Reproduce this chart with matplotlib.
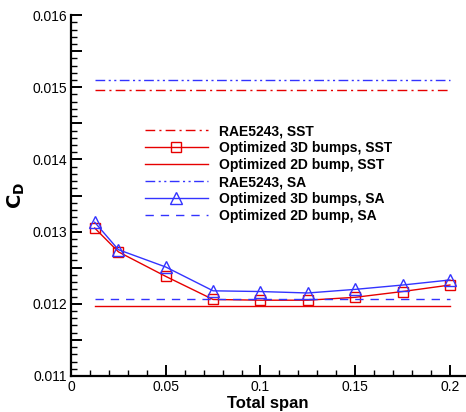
import matplotlib
matplotlib.use("Agg")
import matplotlib.pyplot as plt
from matplotlib.ticker import MultipleLocator, FuncFormatter

# data
span = [0.0125, 0.025, 0.05, 0.075, 0.1, 0.125, 0.15, 0.175, 0.2]
cd_3d_sst = [0.01305, 0.01272, 0.01238, 0.01206, 0.01205, 0.01205, 0.01209, 0.01217, 0.01226]
cd_3d_sa = [0.01313, 0.01275, 0.01251, 0.01218, 0.01217, 0.01215, 0.01220, 0.01226, 0.01233]
cd_rae_sst = 0.01496
cd_rae_sa = 0.01510
cd_2d_sst = 0.01197
cd_2d_sa = 0.01207

plt.rcParams["font.family"] = ["Liberation Sans", "DejaVu Sans"]

red = "#e60000"
blue = "#3333ff"

fig = plt.figure(figsize=(4.66, 4.12), dpi=100)
ax = fig.add_axes([0.1524, 0.0874, 0.8455, 0.876])

x_ends = [span[0], span[-1]]
ax.plot(x_ends, [cd_rae_sst] * 2, color=red, lw=1.0, dashes=(7, 3, 1.5, 3),
        label="RAE5243, SST")
ax.plot(span, cd_3d_sst, color=red, lw=1.0, marker="s", ms=7.5, mfc="none",
        mew=1.0, label="Optimized 3D bumps, SST")
ax.plot(x_ends, [cd_2d_sst] * 2, color=red, lw=1.0, label="Optimized 2D bump, SST")
ax.plot(x_ends, [cd_rae_sa] * 2, color=blue, lw=1.0,
        dashes=(7, 2.5, 1.5, 2.5, 1.5, 2.5), label="RAE5243, SA")
ax.plot(span, cd_3d_sa, color=blue, lw=1.0, marker="^", ms=8, mfc="none",
        mew=1.0, label="Optimized 3D bumps, SA")
ax.plot(x_ends, [cd_2d_sa] * 2, color=blue, lw=1.0, dashes=(6, 5),
        label="Optimized 2D bump, SA")

ax.set_xlim(0, 0.208)
ax.set_ylim(0.011, 0.016)

for side in ("top", "right"):
    ax.spines[side].set_visible(False)
for side in ("left", "bottom"):
    ax.spines[side].set_linewidth(1.6)

ax.xaxis.set_major_locator(MultipleLocator(0.05))
ax.xaxis.set_minor_locator(MultipleLocator(0.01))
ax.xaxis.set_major_formatter(FuncFormatter(lambda v, p: f"{v:g}"))
ax.yaxis.set_major_locator(MultipleLocator(0.0005))
ax.yaxis.set_minor_locator(MultipleLocator(0.0001))


def yfmt(v, p):
    k = round(v * 2000)
    return f"{v:.3f}" if k % 2 == 0 else ""


ax.yaxis.set_major_formatter(FuncFormatter(yfmt))
ax.tick_params(which="major", direction="in", length=8, width=1.4, labelsize=10,
               pad=3)
ax.tick_params(which="minor", direction="in", length=4, width=1.0)

ax.set_xlabel("Total span", fontsize=12, fontweight="bold", labelpad=1)
ax.set_ylabel(r"$\mathbf{C_D}$", fontsize=14, labelpad=4)

ax.legend(loc="upper left", bbox_to_anchor=(145 / 466, 1 - 124 / 412),
          bbox_transform=fig.transFigure, frameon=False, borderpad=0,
          borderaxespad=0, handlelength=4.5, handletextpad=0.8,
          labelspacing=0.22, prop={"weight": "bold", "size": 10})

fig.savefig("out.png", dpi=100)
